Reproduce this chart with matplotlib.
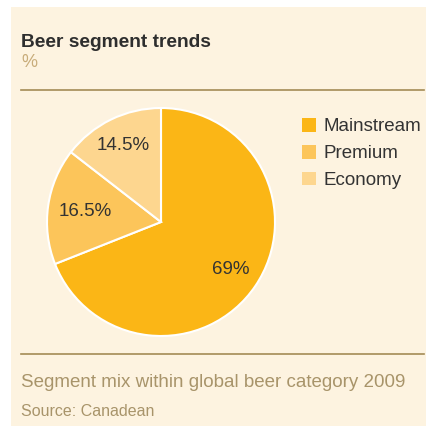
import numpy as np
import matplotlib.pyplot as plt
from matplotlib.patches import Rectangle
from matplotlib.lines import Line2D

# data
segments = ["Mainstream", "Premium", "Economy"]
shares = [69, 16.5, 14.5]
colors = ["#FBB616", "#FCC55A", "#FDD68F"]

plt.rcParams['font.family'] = ['Liberation Sans', 'DejaVu Sans']

bg = "#FDF3E0"
rule = "#A38B55"
tan = "#A8946A"

fig = plt.figure(figsize=(4.27, 4.26), dpi=100)
fig.patch.set_facecolor("white")

# beige panel
fig.add_artist(Rectangle((11 / 427, 0), 1, 1 - 7 / 426, transform=fig.transFigure,
                         facecolor=bg, edgecolor="none", zorder=0))

# title block
fig.text(21 / 427, 1 - 47 / 426, "Beer segment trends", fontsize=13.8,
         fontweight="bold", color="#2E2E2E", va="baseline")
fig.text(21 / 427, 1 - 67 / 426, "%", fontsize=13, color="#C8AC7A", va="baseline")
fig.add_artist(Line2D([21 / 427, 424 / 427], [1 - 90 / 426] * 2,
                      transform=fig.transFigure, color=rule, lw=1.2))

# pie
ax = fig.add_axes([47 / 427, 90 / 426, 228 / 427, 228 / 426])
wedges, texts, autotexts = ax.pie(
    shares, colors=colors, startangle=90, counterclock=False,
    autopct=lambda p: f"{p:g}%", pctdistance=0.73,
    wedgeprops=dict(edgecolor="white", linewidth=1.5),
    textprops=dict(fontsize=13.5, color="#333333"))
# nudge labels radially a little
for w, t, d in zip(wedges, autotexts, [0.74, 0.67, 0.75]):
    ang = np.deg2rad((w.theta1 + w.theta2) / 2)
    t.set_position((d * np.cos(ang), d * np.sin(ang)))
ax.set_xlim(-1, 1)
ax.set_ylim(-1, 1)
ax.set_aspect("equal")

# legend
fig.legend(wedges, segments, loc="upper left",
           bbox_to_anchor=(302 / 427, 1 - 118 / 426), frameon=False,
           fontsize=13.5, handlelength=0.75, handleheight=0.75,
           handletextpad=0.4, labelspacing=0.5, borderpad=0, borderaxespad=0,
           labelcolor="#333333")
for h in fig.legends[0].legend_handles:
    h.set_edgecolor("none")

# footer
fig.add_artist(Line2D([21 / 427, 424 / 427], [1 - 354 / 426] * 2,
                      transform=fig.transFigure, color=rule, lw=1.2))
fig.text(21 / 427, 1 - 387 / 426, "Segment mix within global beer category 2009",
         fontsize=13.5, color=tan, va="baseline")
fig.text(21 / 427, 1 - 416 / 426, "Source: Canadean", fontsize=11.5, color=tan,
         va="baseline")

fig.savefig("out.png", dpi=100)
